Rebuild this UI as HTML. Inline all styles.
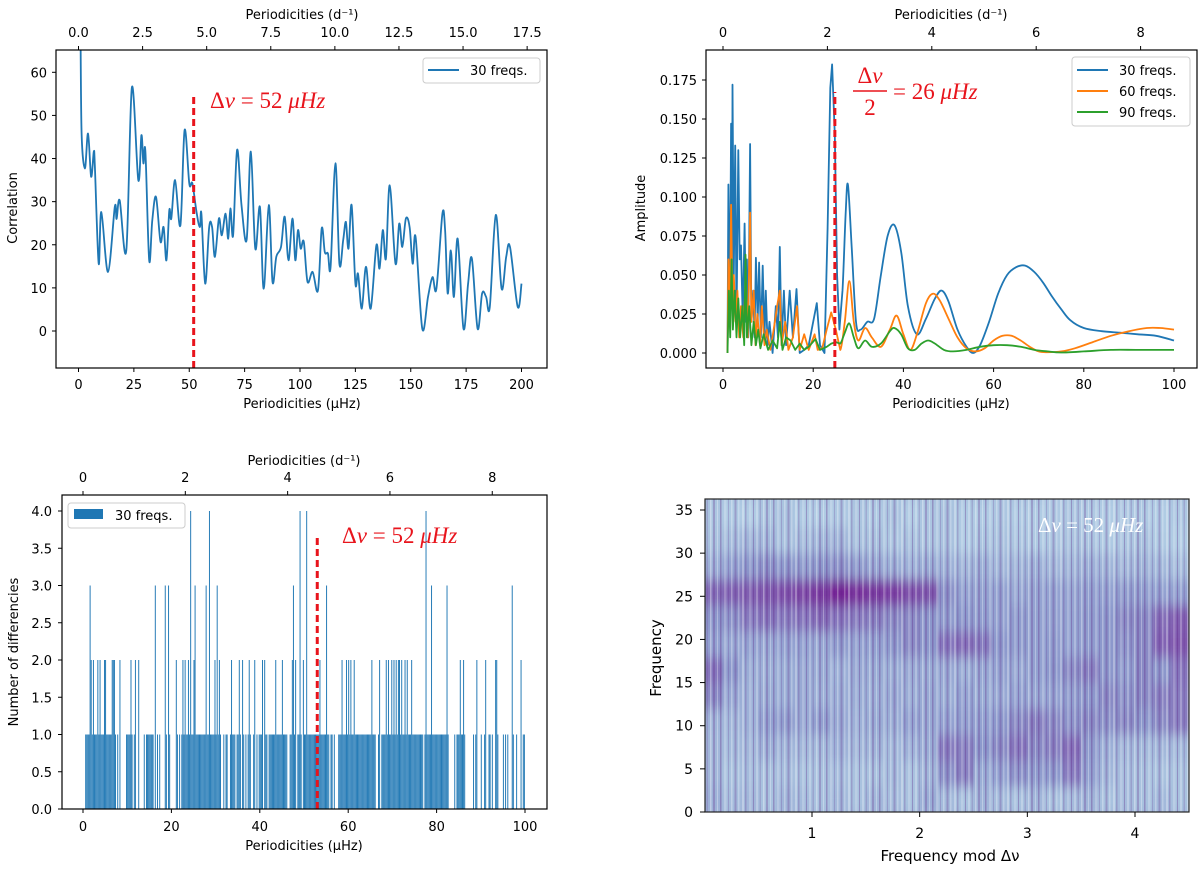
<!DOCTYPE html>
<html><head><meta charset="utf-8">
<style>
html,body{margin:0;padding:0;background:#fff;}
svg{display:block;font-family:"DejaVu Sans","Liberation Sans",sans-serif;}
.tk{font-size:13px;fill:#000;}
.lab{font-size:13px;fill:#000;}
.math{font-family:"Liberation Serif","DejaVu Serif",serif;font-size:23px;fill:#e8141c;}
.it{font-style:italic;}
</style></head>
<body>
<svg id="fig" width="1200" height="869" viewBox="0 0 1200 869" xmlns="http://www.w3.org/2000/svg">
<defs>
<pattern id="stripes" patternUnits="userSpaceOnUse" width="53" height="10">
<rect x="0" y="0" width="2" height="10" fill="#ffffff" opacity="0.3"/>
<rect x="3" y="0" width="1.5" height="10" fill="#5a1a80" opacity="0.22"/>
<rect x="7" y="0" width="2.5" height="10" fill="#ffffff" opacity="0.2"/>
<rect x="11" y="0" width="1" height="10" fill="#5a1a80" opacity="0.3"/>
<rect x="14" y="0" width="2" height="10" fill="#ffffff" opacity="0.25"/>
<rect x="17.5" y="0" width="1.5" height="10" fill="#5a1a80" opacity="0.18"/>
<rect x="21" y="0" width="1.5" height="10" fill="#ffffff" opacity="0.35"/>
<rect x="24" y="0" width="2" height="10" fill="#5a1a80" opacity="0.25"/>
<rect x="28" y="0" width="1" height="10" fill="#ffffff" opacity="0.3"/>
<rect x="31" y="0" width="1.5" height="10" fill="#5a1a80" opacity="0.3"/>
<rect x="35" y="0" width="2.5" height="10" fill="#ffffff" opacity="0.22"/>
<rect x="39" y="0" width="1" height="10" fill="#5a1a80" opacity="0.2"/>
<rect x="42" y="0" width="1.5" height="10" fill="#ffffff" opacity="0.3"/>
<rect x="45.5" y="0" width="2" height="10" fill="#5a1a80" opacity="0.25"/>
<rect x="49" y="0" width="1.5" height="10" fill="#ffffff" opacity="0.25"/>
</pattern>
<filter id="vblur" x="-5%" y="-5%" width="110%" height="110%"><feGaussianBlur stdDeviation="1.2 6"/></filter>
<clipPath id="c1"><rect x="56" y="50" width="491" height="318"/></clipPath>
<clipPath id="c2"><rect x="706" y="50" width="491" height="318"/></clipPath>
<clipPath id="c4"><rect x="705" y="499" width="484" height="313"/></clipPath>
</defs>
</svg>
<script>
// ---- Panel 1: correlation (30 freqs.) ----
const corrX = [0.9,1.4,2.9,4.3,5.7,6.9,7.4,9.1,10.3,13.3,16.4,17.2,18.6,21.6,24.1,27,28.4,29.3,30.2,31.9,33.3,35,37,38.4,39.7,41,41.9,43.6,46,47.9,50,51.4,53.4,54.8,55.5,57.2,59,60.3,61.6,63.4,64.7,66.4,67.6,68.6,69.8,71.6,73.6,75.9,77.8,79.8,81.9,83.6,85.9,87.6,89.3,91.4,93.1,94.8,96.6,97.9,99.1,100.3,101.7,103.4,105.7,108.1,109.8,111.2,112.6,113.8,116,117.8,119.5,120.7,121.9,123.3,125,126.2,127.9,129.8,131.9,134.5,135.9,137.4,138.8,140.5,143.1,144.8,146.2,147.8,149.5,150.9,152.2,155.2,157.8,159.8,161.6,164.3,165.5,166.7,168.1,169.5,171.2,173.8,175.9,177.6,180.2,182.2,184,185.7,188.4,191,193.1,194.8,198.3,200];
const corrY = [70,45.8,37.7,45.8,35.8,41.6,38,15.6,27.6,13.7,28.8,26,30.3,18.7,56.5,35,45.4,38.9,41.6,16.4,25.7,31.1,20.7,24.1,16.4,28,26.1,35,24.5,46.6,34.2,34.2,27.2,24.1,27.2,11,24.1,24.1,17.2,26.1,22.2,27.2,21.4,28.4,22.2,42,29.2,21.1,41.6,19.1,28.8,9.8,29.2,11.4,17.2,19.5,26.5,16.4,26.1,16.4,23.4,19.1,20.7,11.4,13.7,9.4,23.8,18.3,18,14.9,38.9,15.6,21.1,25.3,19.1,29.2,11,13.3,5.2,14.9,5.2,19.9,14.5,23.4,16.8,33.8,15.6,24.9,19.5,26.1,24.1,15.6,21.8,0.5,7.9,12.5,9.8,27.2,23.4,8.7,18.7,7.9,21.4,0.5,11,16.8,0.5,8.7,7.9,5.6,26.9,9.8,17.2,19.5,5.6,11];
const p1XTicks = [0,25,50,75,100,125,150,175,200];
const p1YTicks = [0,10,20,30,40,50,60];
const p1TopTicks = ["0.0","2.5","5.0","7.5","10.0","12.5","15.0","17.5"];
const p1Delta = 52;

// ---- Panel 2: amplitude spectra ----
const a30X = [1,1.2,1.5,1.8,2.0,2.1,2.4,2.7,3.0,3.4,3.7,4.0,4.4,4.8,5.1,5.3,5.6,6.0,6.3,6.7,7.0,7.3,7.7,8.0,8.4,8.8,9.2,9.5,9.9,10.3,11,11.7,12.2,12.6,13,13.5,14,14.8,15.5,16.3,17,18,19,20.8,21.5,22.5,23.2,23.8,24.2,24.8,25.3,25.8,26.5,27.2,27.7,28.5,29.5,30.5,32,33.5,35,36.5,38,39.5,41,43,45,47,48.5,50,52,54,55.5,57,59,61,63,65,67,69,71,73,75,77,80,84,88,92,96,100];
const a30Y = [0,0.108,0.02,0.147,0.03,0.172,0.05,0.133,0.02,0.13,0.06,0.069,0.02,0.083,0.02,0.06,0.01,0.134,0.02,0.04,0.01,0.061,0.02,0.058,0.01,0.056,0.01,0.04,0.005,0.02,0,0.03,0.01,0.068,0.005,0.04,0.005,0.04,0.01,0.041,0,0.002,0.005,0.032,0.005,0,0.08,0.17,0.185,0.14,0.05,0.015,0.04,0.09,0.108,0.07,0.02,0.015,0.02,0.022,0.05,0.075,0.082,0.065,0.03,0.012,0.022,0.035,0.04,0.033,0.015,0.004,0,0.005,0.02,0.038,0.05,0.055,0.056,0.052,0.045,0.036,0.028,0.021,0.016,0.014,0.013,0.012,0.011,0.008];
const a60X = [1,1.2,1.5,1.8,2.1,2.4,2.8,3.2,3.6,4,4.5,5,5.5,6,6.3,6.8,7.2,7.6,8.2,8.6,9.2,9.7,10.5,11.5,12,12.6,13,13.8,14.5,15.5,16.4,17,18,19,20.3,21,22,23,24,25,26,27,28,29,30,31.5,33,35,37,38.5,40,41.5,43,45,46.5,48,50,52,54,56,58,60,62,64,66,68,70,72,75,78,82,86,90,94,97,100];
const a60Y = [0,0.06,0.02,0.095,0.03,0.05,0.02,0.04,0.01,0.03,0.01,0.045,0.01,0.09,0.02,0.04,0.005,0.025,0.005,0.03,0.005,0.015,0.002,0.02,0.03,0.04,0.005,0.02,0.002,0.01,0.03,0.002,0.012,0.002,0.012,0.002,0.003,0.015,0.026,0.015,0.002,0.02,0.046,0.02,0.008,0.016,0.01,0.004,0.015,0.024,0.012,0.002,0.012,0.032,0.038,0.034,0.022,0.01,0.003,0.001,0.003,0.008,0.011,0.011,0.008,0.004,0.001,0.0005,0.001,0.003,0.007,0.011,0.014,0.016,0.016,0.015];
const a90X = [1,1.3,1.6,1.9,2.2,2.6,3,3.4,3.8,4.3,4.7,5,5.3,5.8,6.3,6.8,7.3,7.8,8.3,9,10,11,12,12.6,13.2,14,15,16,17,18,19,20.5,21.5,23,24,25,26,27,28,29,30,31.5,33,35,37,38,39.5,41,42.5,44,45.5,47,49,51,54,57,60,63,66,69,72,75,80,86,92,100];
const a90Y = [0,0.04,0.01,0.06,0.015,0.04,0.01,0.035,0.01,0.03,0.005,0.063,0.01,0.03,0.005,0.02,0.005,0.015,0.003,0.012,0.002,0.008,0.003,0.02,0.002,0.01,0.008,0.002,0.006,0.002,0.004,0.009,0.002,0.004,0.006,0.007,0.006,0.013,0.019,0.01,0.003,0.008,0.004,0.006,0.014,0.016,0.012,0.003,0.002,0.006,0.008,0.006,0.002,0.001,0.002,0.004,0.005,0.005,0.004,0.002,0.001,0.0003,0.001,0.002,0.002,0.002];
const p2XTicks = [0,20,40,60,80,100];
const p2YTicks = [0,0.025,0.05,0.075,0.1,0.125,0.15,0.175];
const p2YTickLabels = ["0.000","0.025","0.050","0.075","0.100","0.125","0.150","0.175"];
const p2TopTicks = [0,2,4,6,8];
const p2Delta = 24.8;

// ---- Panel 3: histogram of differences (bin width 0.25 µHz) ----
const histBinWidth = 0.25;
const histCounts = [
0,0,1,1,1,1,3,2,1,2,1,1,1,2,1,2,1,1,1,2,2,1,1,1,1,1,2,2,2,1,0,1,0,2,0,0,0,0,0,1,
1,1,1,2,1,0,1,2,0,0,2,0,0,0,0,1,0,1,1,1,1,1,1,1,0,3,0,1,0,1,0,0,0,0,3,1,0,3,1,0,
0,0,0,0,2,1,0,1,0,1,2,1,2,1,1,2,1,4,1,1,2,3,1,1,1,1,1,1,1,1,1,3,1,1,4,1,1,1,1,2,
1,3,1,2,1,0,0,1,0,1,1,0,0,1,2,1,1,1,0,1,1,2,1,0,2,1,0,1,0,1,2,1,0,0,1,2,0,1,0,1,
1,1,2,0,2,1,1,0,1,1,1,1,1,1,2,1,1,1,1,1,2,1,1,1,1,0,0,1,1,2,3,1,2,0,1,1,4,1,0,2,
1,1,4,1,1,1,1,1,1,1,1,1,1,1,2,1,1,1,1,1,3,1,1,0,1,1,0,1,0,0,0,1,1,1,2,1,1,1,2,1,
2,1,2,1,1,2,1,1,1,1,1,1,1,1,1,1,1,1,1,1,1,2,1,1,1,0,0,1,2,0,1,1,1,1,2,1,2,1,1,2,
1,2,1,2,1,2,2,1,2,1,1,2,1,2,1,1,1,2,1,1,1,1,1,1,1,1,1,1,0,1,4,1,1,1,1,3,1,1,1,1,
1,1,1,1,1,1,1,1,1,3,1,0,0,0,0,0,1,0,1,1,1,2,1,1,2,1,0,0,0,0,0,0,0,1,0,1,2,0,0,0,
1,0,0,1,2,0,0,1,1,0,1,0,0,2,2,1,0,0,0,0,1,0,1,0,1,0,0,0,3,1,0,0,1,0,0,0,2,0,1,1];
const p3XTicks = [0,20,40,60,80,100];
const p3YTicks = [0,0.5,1,1.5,2,2.5,3,3.5,4];
const p3TopTicks = [0,2,4,6,8];
const p3Delta = 53;

// ---- Panel 4: echelle heatmap (rows: 3-unit frequency bands, cols: 1/6 Δν) ----
const echRowHeight = 3;
const echColWidth = 1/6;
const echGrid = [
[0.38,0.32,0.35,0.3,0.36,0.33,0.3,0.34,0.3,0.35,0.32,0.3,0.4,0.33,0.3,0.36,0.32,0.3,0.35,0.3,0.33,0.36,0.3,0.32,0.3,0.34,0.3,0.32],
[0.35,0.3,0.33,0.3,0.32,0.3,0.3,0.32,0.3,0.3,0.33,0.3,0.35,0.52,0.58,0.4,0.45,0.52,0.48,0.5,0.6,0.45,0.35,0.32,0.3,0.3,0.3,0.3],
[0.35,0.33,0.35,0.38,0.36,0.35,0.33,0.38,0.35,0.36,0.34,0.38,0.4,0.6,0.58,0.5,0.55,0.62,0.55,0.58,0.65,0.48,0.38,0.35,0.33,0.35,0.34,0.33],
[0.36,0.35,0.38,0.45,0.48,0.42,0.46,0.42,0.38,0.4,0.4,0.45,0.42,0.45,0.48,0.45,0.5,0.55,0.58,0.55,0.52,0.55,0.52,0.55,0.5,0.55,0.6,0.6],
[0.55,0.42,0.38,0.4,0.4,0.42,0.38,0.4,0.4,0.38,0.42,0.4,0.42,0.4,0.45,0.4,0.42,0.45,0.42,0.45,0.48,0.5,0.55,0.52,0.55,0.58,0.6,0.58],
[0.62,0.5,0.4,0.38,0.4,0.42,0.4,0.38,0.42,0.4,0.4,0.42,0.4,0.42,0.4,0.42,0.45,0.42,0.45,0.5,0.55,0.58,0.5,0.48,0.55,0.5,0.62,0.6],
[0.45,0.42,0.45,0.42,0.45,0.45,0.42,0.48,0.45,0.45,0.5,0.55,0.5,0.62,0.65,0.6,0.5,0.48,0.45,0.48,0.45,0.48,0.5,0.52,0.55,0.68,0.72,0.7],
[0.5,0.52,0.6,0.62,0.6,0.62,0.65,0.62,0.6,0.58,0.55,0.55,0.5,0.48,0.5,0.46,0.45,0.48,0.45,0.46,0.45,0.48,0.5,0.55,0.55,0.65,0.7,0.68],
[0.65,0.68,0.7,0.72,0.75,0.78,0.82,0.9,0.85,0.82,0.8,0.75,0.72,0.52,0.45,0.44,0.45,0.42,0.44,0.45,0.44,0.46,0.45,0.48,0.46,0.45,0.46,0.45],
[0.38,0.45,0.5,0.52,0.5,0.48,0.5,0.52,0.48,0.42,0.4,0.38,0.4,0.38,0.36,0.38,0.35,0.36,0.38,0.35,0.36,0.38,0.36,0.35,0.36,0.34,0.32,0.3],
[0.3,0.32,0.36,0.34,0.3,0.32,0.34,0.36,0.3,0.3,0.28,0.3,0.28,0.3,0.26,0.28,0.3,0.28,0.26,0.28,0.3,0.28,0.26,0.28,0.3,0.26,0.25,0.26],
[0.28,0.26,0.25,0.28,0.3,0.26,0.25,0.27,0.28,0.26,0.3,0.25,0.28,0.3,0.26,0.25,0.28,0.26,0.25,0.27,0.28,0.26,0.25,0.27,0.26,0.25,0.27,0.25],
[0.3,0.28,0.3,0.3,0.28,0.3,0.3,0.28,0.3,0.3,0.28,0.3,0.3,0.28,0.3,0.3,0.28,0.3,0.3,0.28,0.3,0.3,0.28,0.3,0.3,0.28,0.3,0.3]];
const p4XTicks = [1,2,3,4];
const p4YTicks = [0,5,10,15,20,25,30,35];

const NS = "http://www.w3.org/2000/svg";
const svg = document.getElementById("fig");
function mk(tag, attrs, parent){
  const e = document.createElementNS(NS, tag);
  for (const k in attrs) e.setAttribute(k, attrs[k]);
  (parent||svg).appendChild(e);
  return e;
}
function txt(x,y,s,cls,anchor,parent){
  const t = mk("text",{x:x,y:y,"class":cls,"text-anchor":anchor||"middle"},parent);
  t.textContent = s;
  return t;
}
function span(t,s,italic){
  const e = document.createElementNS(NS,"tspan");
  if(italic) e.setAttribute("class","it");
  e.textContent = s;
  t.appendChild(e);
}
function mathLabel(x,y,parts,parent){
  const t = mk("text",{x:x,y:y,"class":"math","text-anchor":"start"},parent);
  parts.forEach(p=>span(t,p[0],p[1]));
  return t;
}
function lin(d0,d1,p0,p1){ return v => p0 + (v-d0)*(p1-p0)/(d1-d0); }
// smooth path (Catmull-Rom) for segments whose x >= smoothFrom (data units); linear before
function pathD(xs,ys,X,Y,smoothFrom){
  const P = xs.map((x,i)=>[X(x),Y(ys[i])]);
  let d = "M"+P[0][0].toFixed(1)+","+P[0][1].toFixed(1);
  for(let i=0;i<P.length-1;i++){
    const p0=P[Math.max(0,i-1)], p1=P[i], p2=P[i+1], p3=P[Math.min(P.length-1,i+2)];
    if(xs[i] < smoothFrom){ d+=" L"+p2[0].toFixed(1)+","+p2[1].toFixed(1); continue; }
    const c1=[p1[0]+(p2[0]-p0[0])/6, p1[1]+(p2[1]-p0[1])/6];
    const c2=[p2[0]-(p3[0]-p1[0])/6, p2[1]-(p3[1]-p1[1])/6];
    d+=" C"+c1[0].toFixed(1)+","+c1[1].toFixed(1)+" "+c2[0].toFixed(1)+","+c2[1].toFixed(1)+" "+p2[0].toFixed(1)+","+p2[1].toFixed(1);
  }
  return d;
}
const UHZ_PER_D = 11.574;

// ===== Panel 1 =====
(function(){
  const g = mk("g",{});
  
  
  const L=56,R=547,T=50,B=368;
  const X = lin(0,200,78.5,521.5), Y = lin(0,60,331,72.3);
  const ln = mk("path",{d:pathD(corrX,corrY,X,Y,-1),fill:"none",stroke:"#1f77b4","stroke-width":1.8,"stroke-linejoin":"round","clip-path":"url(#c1)"},g);
  
  
  const dl = mk("line",{x1:X(p1Delta),x2:X(p1Delta),y1:B,y2:Y(55),stroke:"#e8141c","stroke-width":3,"stroke-dasharray":"7,4"},g);
  
  
  const mt = mathLabel(210,108,[["Δ",0],["ν",1],[" = 52 ",0],["μHz",1]],g);
  
  
  const fr = mk("rect",{x:L,y:T,width:R-L,height:B-T,fill:"none",stroke:"#000","stroke-width":1.2},g);
  
  
  p1XTicks.forEach(v=>{ mk("line",{x1:X(v),x2:X(v),y1:B,y2:B+4,stroke:"#000"},g);
    const t=txt(X(v),389,String(v),"tk","middle",g);
    
     });
  p1YTicks.forEach(v=>{ mk("line",{x1:L-4,x2:L,y1:Y(v),y2:Y(v),stroke:"#000"},g);
    const t=txt(47,Y(v)+5,String(v),"tk","end",g);
    
     });
  p1TopTicks.forEach(s=>{ const xx=X(parseFloat(s)*UHZ_PER_D);
    mk("line",{x1:xx,x2:xx,y1:T,y2:T-4,stroke:"#000"},g);
    const t=txt(xx,37,s,"tk","middle",g);
    
     });
  const xl=txt(302,408,"Periodicities (μHz)","lab","middle",g);
  
  
  const tl=txt(302,19,"Periodicities (d⁻¹)","lab","middle",g);
  
  
  const yl=txt(0,0,"Correlation","lab","middle",g);
  yl.setAttribute('transform','translate(17,208) rotate(-90)');
  
  
  const lg = mk("g",{},g);
  
  
  mk("rect",{x:423,y:58,width:117,height:25,rx:3,fill:"#fff",stroke:"#ccc"},lg);
  mk("line",{x1:428,x2:459,y1:70,y2:70,stroke:"#1f77b4","stroke-width":2},lg);
  const le=txt(470,75,"30 freqs.","tk","start",lg);
  
  
})();

// ===== Panel 2 =====
(function(){
  const g = mk("g",{});
  
  
  const L=706,R=1197,T=50,B=368;
  const X = lin(0,100,723,1174), Y = lin(0,0.175,353,80);
  const series = [[a30X,a30Y,"#1f77b4","series-30-freqs"],[a60X,a60Y,"#ff7f0e","series-60-freqs"],[a90X,a90Y,"#2ca02c","series-90-freqs"]];
  series.forEach(s=>{
    const p = mk("path",{d:pathD(s[0],s[1],X,Y,26),fill:"none",stroke:s[2],"stroke-width":1.8,"stroke-linejoin":"round","clip-path":"url(#c2)"},g);
    
    
  });
  const dl = mk("line",{x1:X(p2Delta),x2:X(p2Delta),y1:B,y2:92,stroke:"#e8141c","stroke-width":3,"stroke-dasharray":"7,4"},g);
  
  
  const ann = mk("g",{},g);
  
  
  const n = mk("text",{x:870,y:83,"class":"math","text-anchor":"middle"},ann);
  span(n,"Δ",0); span(n,"ν",1);
  mk("line",{x1:853,x2:887,y1:91,y2:91,stroke:"#e8141c","stroke-width":1.5},ann);
  txt(870,115,"2","math","middle",ann);
  mathLabel(893,99,[["= 26 ",0],["μHz",1]],ann);
  const fr = mk("rect",{x:L,y:T,width:R-L,height:B-T,fill:"none",stroke:"#000","stroke-width":1.2},g);
  
  
  p2XTicks.forEach(v=>{ mk("line",{x1:X(v),x2:X(v),y1:B,y2:B+4,stroke:"#000"},g);
    const t=txt(X(v),389,String(v),"tk","middle",g);
    
     });
  p2YTicks.forEach((v,i)=>{ mk("line",{x1:L-4,x2:L,y1:Y(v),y2:Y(v),stroke:"#000"},g);
    const t=txt(697,Y(v)+5,p2YTickLabels[i],"tk","end",g);
    
     });
  p2TopTicks.forEach(v=>{ const xx=X(v*UHZ_PER_D);
    mk("line",{x1:xx,x2:xx,y1:T,y2:T-4,stroke:"#000"},g);
    const t=txt(xx,37,String(v),"tk","middle",g);
    
     });
  const xl=txt(951,408,"Periodicities (μHz)","lab","middle",g);
  
  
  const tl=txt(951,19,"Periodicities (d⁻¹)","lab","middle",g);
  
  
  const yl=txt(0,0,"Amplitude","lab","middle",g);
  yl.setAttribute('transform','translate(645,208) rotate(-90)');
  
  
  const lg = mk("g",{},g);
  
  
  mk("rect",{x:1072,y:57,width:118,height:69,rx:3,fill:"#fff",stroke:"#ccc"},lg);
  const names=["30 freqs.","60 freqs.","90 freqs."], cols=["#1f77b4","#ff7f0e","#2ca02c"], ys=[70,91,112];
  names.forEach((s,i)=>{
    mk("line",{x1:1077,x2:1108,y1:ys[i],y2:ys[i],stroke:cols[i],"stroke-width":2},lg);
    const le=txt(1119,ys[i]+5,s,"tk","start",lg);
    
    
  });
})();

// ===== Panel 3 =====
(function(){
  const g = mk("g",{});
  
  
  const L=62,R=547,T=495,B=809;
  const X = lin(0,100,83,525), Y = lin(0,4,809,511);
  histCounts.forEach((c,i)=>{
    if(!c) return;
    const x0=X(i*histBinWidth), x1=X((i+1)*histBinWidth);
    const b=mk("rect",{x:x0.toFixed(2),y:Y(c).toFixed(2),width:(x1-x0-0.15).toFixed(2),height:(B-Y(c)).toFixed(2),fill:"#1f77b4"},g);
    
    
  });
  const dl = mk("line",{x1:X(p3Delta),x2:X(p3Delta),y1:B,y2:537,stroke:"#e8141c","stroke-width":3,"stroke-dasharray":"7,4"},g);
  
  
  const mt=mathLabel(342,543,[["Δ",0],["ν",1],[" = 52 ",0],["μHz",1]],g);
  
  
  const fr = mk("rect",{x:L,y:T,width:R-L,height:B-T,fill:"none",stroke:"#000","stroke-width":1.2},g);
  
  
  p3XTicks.forEach(v=>{ mk("line",{x1:X(v),x2:X(v),y1:B,y2:B+4,stroke:"#000"},g);
    const t=txt(X(v),831,String(v),"tk","middle",g);
    
     });
  p3YTicks.forEach(v=>{ mk("line",{x1:L-4,x2:L,y1:Y(v),y2:Y(v),stroke:"#000"},g);
    const t=txt(52,Y(v)+5,v.toFixed(1),"tk","end",g);
    
     });
  p3TopTicks.forEach(v=>{ const xx=X(v*UHZ_PER_D);
    mk("line",{x1:xx,x2:xx,y1:T,y2:T-4,stroke:"#000"},g);
    const t=txt(xx,482,String(v),"tk","middle",g);
    
     });
  const xl=txt(304,850,"Periodicities (μHz)","lab","middle",g);
  
  
  const tl=txt(304,465,"Periodicities (d⁻¹)","lab","middle",g);
  
  
  const yl=txt(0,0,"Number of differencies","lab","middle",g);
  yl.setAttribute('transform','translate(18,652) rotate(-90)');
  
  
  const lg = mk("g",{},g);
  
  
  mk("rect",{x:68,y:503,width:117,height:25,rx:3,fill:"#fff",stroke:"#ccc"},lg);
  mk("rect",{x:74,y:509,width:29,height:10,fill:"#1f77b4"},lg);
  const le=txt(115,520,"30 freqs.","tk","start",lg);
  
  
})();

// ===== Panel 4 =====
(function(){
  const g = mk("g",{});
  
  
  const L=705,R=1189,T=499,B=812;
  const X = lin(1,4,812,1135), Y = lin(0,35,812,510);
  function col(v){
    const a=[176,204,228], b=[140,152,204], c=[118,36,150];
    let t, p, q;
    if(v<0.5){ t=Math.max(0,(v-0.25)/0.25); p=a; q=b; } else { t=Math.min(1,(v-0.5)/0.4); p=b; q=c; }
    return "rgb("+p.map((x,i)=>Math.round(x+(q[i]-x)*t)).join(",")+")";
  }
  const outer = mk("g",{"clip-path":"url(#c4)"},g);
  
  
  mk("rect",{x:L,y:T,width:R-L,height:B-T,fill:col(0.35)},outer);
  const hg = mk("g",{filter:"url(#vblur)"},outer);
  echGrid.forEach((row,r)=>{
    row.forEach((v,c)=>{
      const x0=X(c*echColWidth), x1=X((c+1)*echColWidth);
      const y0=Y((r+1)*echRowHeight), y1=Y(r*echRowHeight);
      const cell=mk("rect",{x:x0.toFixed(2),y:y0.toFixed(2),width:(x1-x0+0.6).toFixed(2),height:(y1-y0+0.6).toFixed(2),fill:col(v)},hg);
      
      
    });
  });
  mk("rect",{x:L,y:T,width:R-L,height:B-T,fill:"url(#stripes)"},outer);
  const mt=mathLabel(1038,532,[["Δ",0],["ν",1],[" = 52 ",0],["μHz",1]],g);
  mt.style.fill="#ffffff";
  mt.style.fontSize="21px";
  
  
  const fr = mk("rect",{x:L,y:T,width:R-L,height:B-T,fill:"none",stroke:"#222","stroke-width":1.2},g);
  
  
  p4XTicks.forEach(v=>{ mk("line",{x1:X(v),x2:X(v),y1:B,y2:B+5,stroke:"#000"},g);
    const t=txt(X(v),838,String(v),"tk","middle",g);
    t.style.fontSize="14px";
    
     });
  p4YTicks.forEach(v=>{ mk("line",{x1:L-5,x2:L,y1:Y(v),y2:Y(v),stroke:"#000"},g);
    const t=txt(693,Y(v)+5,String(v),"tk","end",g);
    t.style.fontSize="14px";
    
     });
  const xl=txt(950,861,"Frequency mod Δν","lab","middle",g);
  xl.style.fontSize="15px";
  
  
  const yl=txt(0,0,"Frequency","lab","middle",g);
  yl.style.fontSize="15px";
  yl.setAttribute('transform','translate(661,658) rotate(-90)');
  
  
})();
</script>
</body></html>
